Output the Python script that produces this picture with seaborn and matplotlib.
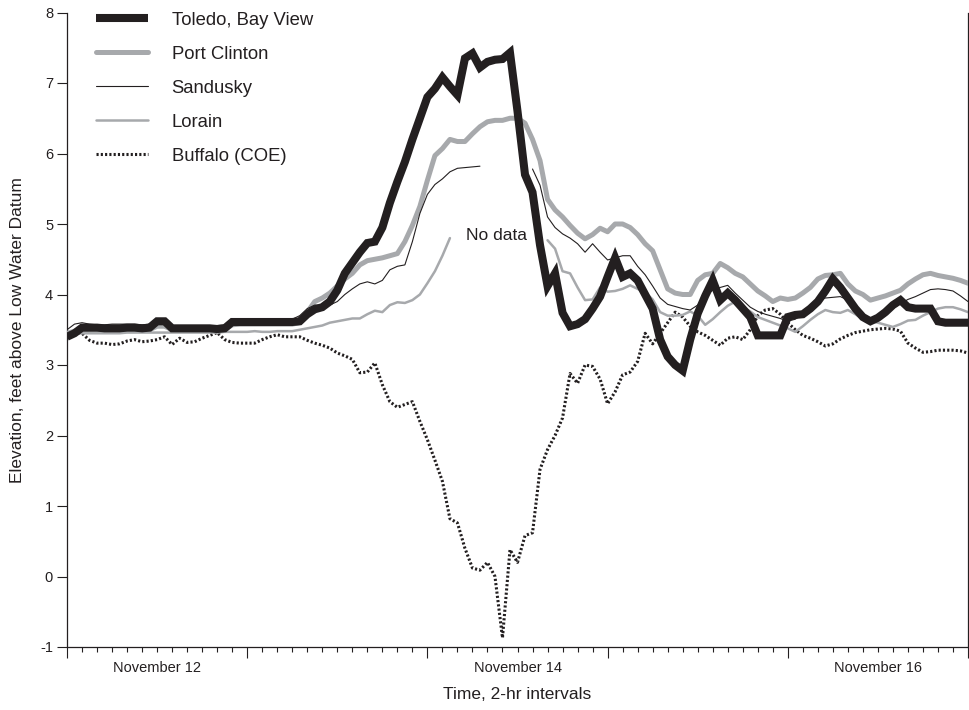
import numpy as np
import pandas as pd
import matplotlib.pyplot as plt
import seaborn as sns
from matplotlib.ticker import MultipleLocator

# Estilo general
sns.set_style("ticks")
plt.rcParams['font.family'] = ['Liberation Sans', 'DejaVu Sans']
plt.rcParams['axes.unicode_minus'] = False

NEGRO = '#231f20'
GRIS = '#a7a9ac'
nan = np.nan

# Horas desde el 12 de noviembre 00:00 (lecturas horarias)
horas = list(range(121))

dias = ['November 12', 'November 14', 'November 16']
pos_dias = [12, 60, 108]

toledo = [
    3.40, 3.45, 3.53, 3.53, 3.53, 3.52, 3.52, 3.52, 3.53, 3.53,
    3.52, 3.53, 3.62, 3.62, 3.52, 3.52, 3.52, 3.52, 3.52, 3.52,
    3.51, 3.52, 3.61, 3.61, 3.61, 3.61, 3.61, 3.61, 3.61, 3.61,
    3.61, 3.62, 3.72, 3.79, 3.82, 3.90, 4.06, 4.30, 4.45, 4.60,
    4.73, 4.75, 4.95, 5.30, 5.60, 5.88, 6.20, 6.50, 6.80, 6.92,
    7.08, 6.95, 6.83, 7.35, 7.42, 7.22, 7.30, 7.33, 7.34, 7.43,
    6.60, 5.70, 5.45, 4.70, 4.12, 4.30, 3.74, 3.55, 3.58, 3.65,
    3.80, 3.97, 4.25, 4.52, 4.25, 4.30, 4.20, 4.00, 3.80, 3.36,
    3.12, 3.00, 2.92, 3.36, 3.73, 3.98, 4.20, 3.92, 4.02, 3.92,
    3.80, 3.68, 3.42, 3.42, 3.42, 3.42, 3.68, 3.71, 3.72, 3.80,
    3.90, 4.05, 4.22, 4.10, 3.95, 3.80, 3.68, 3.62, 3.67, 3.75,
    3.85, 3.92, 3.82, 3.80, 3.80, 3.80, 3.62, 3.60, 3.60, 3.60,
    3.60,
]

port_clinton = [
    3.45, 3.48, 3.50, 3.50, 3.50, 3.50, 3.50, 3.50, 3.50, 3.50,
    3.50, 3.50, 3.55, 3.55, 3.50, 3.50, 3.50, 3.50, 3.50, 3.50,
    3.50, 3.50, 3.57, 3.58, 3.58, 3.58, 3.58, 3.58, 3.58, 3.58,
    3.58, 3.60, 3.75, 3.90, 3.95, 4.02, 4.12, 4.22, 4.30, 4.42,
    4.48, 4.50, 4.52, 4.55, 4.58, 4.75, 4.98, 5.25, 5.62, 5.97,
    6.07, 6.20, 6.17, 6.17, 6.28, 6.38, 6.45, 6.47, 6.47, 6.50,
    6.50, 6.43, 6.20, 5.90, 5.35, 5.20, 5.10, 4.98, 4.87, 4.79,
    4.85, 4.94, 4.89, 5.00, 5.00, 4.95, 4.85, 4.72, 4.62, 4.35,
    4.08, 4.02, 4.00, 4.00, 4.20, 4.28, 4.30, 4.44, 4.38, 4.30,
    4.25, 4.15, 4.05, 3.98, 3.90, 3.95, 3.93, 3.95, 4.02, 4.10,
    4.22, 4.27, 4.28, 4.30, 4.15, 4.05, 4.00, 3.92, 3.95, 3.98,
    4.02, 4.06, 4.15, 4.22, 4.28, 4.30, 4.27, 4.25, 4.23, 4.20,
    4.16,
]

sandusky = [
    3.50, 3.58, 3.60, 3.58, 3.57, 3.57, 3.58, 3.58, 3.58, 3.58,
    3.57, 3.58, 3.60, 3.60, 3.56, 3.56, 3.56, 3.56, 3.56, 3.56,
    3.56, 3.57, 3.60, 3.61, 3.62, 3.62, 3.62, 3.62, 3.62, 3.63,
    3.65, 3.70, 3.80, 3.85, 3.85, 3.85, 3.90, 4.00, 4.08, 4.15,
    4.18, 4.15, 4.20, 4.35, 4.40, 4.42, 4.75, 5.15, 5.42, 5.56,
    5.64, 5.74, 5.79, 5.80, 5.81, 5.82, nan, nan, nan, nan,
    nan, nan, 5.78, 5.55, 5.10, 4.95, 4.86, 4.80, 4.72, 4.60,
    4.72, 4.60, 4.49, 4.52, 4.55, 4.55, 4.40, 4.28, 4.12, 3.95,
    3.86, 3.83, 3.80, 3.78, 3.85, 3.98, 4.06, 4.10, 4.13, 4.02,
    3.92, 3.82, 3.76, 3.72, 3.69, 3.66, 3.62, 3.65, 3.72, 3.85,
    3.93, 3.95, 3.96, 3.97, 3.92, 3.82, 3.72, 3.66, 3.64, 3.70,
    3.80, 3.87, 3.93, 3.97, 4.02, 4.07, 4.08, 4.07, 4.05, 3.98,
    3.90,
]

lorain = [
    3.45, 3.45, 3.45, 3.45, 3.45, 3.45, 3.45, 3.45, 3.46, 3.46,
    3.46, 3.46, 3.46, 3.46, 3.46, 3.46, 3.46, 3.46, 3.46, 3.46,
    3.46, 3.47, 3.47, 3.47, 3.47, 3.48, 3.47, 3.47, 3.48, 3.48,
    3.48, 3.50, 3.52, 3.54, 3.56, 3.60, 3.62, 3.64, 3.66, 3.66,
    3.72, 3.77, 3.75, 3.85, 3.89, 3.88, 3.92, 4.00, 4.16, 4.33,
    4.55, 4.80, nan, nan, nan, nan, nan, nan, nan, nan,
    nan, nan, nan, nan, 4.77, 4.65, 4.33, 4.30, 4.10, 3.92,
    3.93, 4.10, 4.04, 4.05, 4.08, 4.13, 4.08, 4.03, 3.93, 3.75,
    3.70, 3.70, 3.71, 3.76, 3.70, 3.57, 3.65, 3.75, 3.84, 3.90,
    3.82, 3.76, 3.68, 3.64, 3.60, 3.56, 3.52, 3.47, 3.55, 3.64,
    3.72, 3.78, 3.75, 3.74, 3.78, 3.72, 3.65, 3.62, 3.60, 3.57,
    3.54, 3.58, 3.63, 3.64, 3.70, 3.75, 3.80, 3.82, 3.82, 3.79,
    3.75,
]

buffalo = [
    3.40, 3.47, 3.45, 3.35, 3.31, 3.31, 3.29, 3.30, 3.34, 3.36,
    3.33, 3.34, 3.36, 3.40, 3.29, 3.38, 3.32, 3.33, 3.38, 3.42,
    3.46, 3.36, 3.32, 3.31, 3.31, 3.31, 3.36, 3.40, 3.43, 3.40,
    3.40, 3.40, 3.35, 3.31, 3.28, 3.24, 3.17, 3.13, 3.08, 2.89,
    2.90, 3.03, 2.72, 2.48, 2.40, 2.44, 2.48, 2.20, 1.94, 1.65,
    1.35, 0.82, 0.76, 0.40, 0.12, 0.09, 0.20, 0.00, -0.87, 0.38,
    0.20, 0.58, 0.62, 1.52, 1.80, 2.00, 2.25, 2.88, 2.74, 3.00,
    2.98, 2.80, 2.45, 2.62, 2.86, 2.90, 3.05, 3.45, 3.30, 3.45,
    3.60, 3.75, 3.68, 3.55, 3.47, 3.42, 3.35, 3.28, 3.38, 3.40,
    3.36, 3.50, 3.70, 3.78, 3.80, 3.72, 3.60, 3.50, 3.42, 3.38,
    3.33, 3.27, 3.30, 3.37, 3.42, 3.46, 3.48, 3.50, 3.51, 3.52,
    3.51, 3.48, 3.31, 3.24, 3.18, 3.19, 3.21, 3.21, 3.21, 3.20,
    3.17,
]


def trazar(ax, valores, etiqueta, **estilo):
    """Dibuja una serie; los huecos (NaN) cortan la linea"""
    serie = pd.Series(valores, index=horas, dtype=float)
    tramo = serie.isna().cumsum()
    primero = True
    for _, parte in serie.groupby(tramo):
        parte = parte.dropna()
        if parte.empty:
            continue
        sns.lineplot(x=parte.index, y=parte.values, ax=ax, legend=False,
                     label=etiqueta if primero else '_nolegend_', **estilo)
        primero = False


fig = plt.figure(figsize=(9.69, 7.10), dpi=100)
ax = fig.add_axes([67 / 969, 1 - 647 / 710, 901 / 969, (647 - 12.5) / 710])

trazar(ax, toledo, 'Toledo, Bay View', color=NEGRO, linewidth=5.8, zorder=5,
       solid_joinstyle='miter', solid_capstyle='butt')
trazar(ax, port_clinton, 'Port Clinton', color=GRIS, linewidth=3.6, zorder=3)
trazar(ax, sandusky, 'Sandusky', color=NEGRO, linewidth=0.8, zorder=4)
trazar(ax, lorain, 'Lorain', color=GRIS, linewidth=1.8, zorder=2)
trazar(ax, buffalo, 'Buffalo (COE)', color=NEGRO, linewidth=2.2, zorder=1,
       linestyle=(0, (0.7, 0.7)))

ax.text(53.1, 4.84, 'No data', ha='left', va='center', fontsize=12.5, color=NEGRO)

# Ejes
ax.set_xlim(0, 120)
ax.set_ylim(-1, 8)
ax.set_yticks(range(-1, 9))
ax.xaxis.set_major_locator(MultipleLocator(24))
ax.xaxis.set_minor_locator(MultipleLocator(2))
ax.tick_params(axis='x', which='major', length=8, width=0.8, color=NEGRO, labelbottom=False)
ax.tick_params(axis='x', which='minor', length=3.6, width=0.8, color=NEGRO)
ax.tick_params(axis='y', length=7, width=0.8, pad=3, labelsize=10.5, color=NEGRO, labelcolor=NEGRO)
for lado in ['left', 'right', 'bottom']:
    ax.spines[lado].set_color(NEGRO)
    ax.spines[lado].set_linewidth(0.9)
ax.spines['top'].set_visible(False)

sec = ax.secondary_xaxis('bottom')
sec.set_xticks(pos_dias, dias)
sec.tick_params(length=0, pad=10, labelsize=10.5, labelcolor=NEGRO)
sec.spines['bottom'].set_visible(False)
sec.set_xlabel('Time, 2-hr intervals', fontsize=12.5, labelpad=9, color=NEGRO)

ax.set_xlabel('')
ax.set_ylabel('Elevation, feet above Low Water Datum', fontsize=12.5, labelpad=11, color=NEGRO)

handles, labels = ax.get_legend_handles_labels()
ax.legend(handles, labels, loc='upper left', bbox_to_anchor=(0.032, 1.001),
          frameon=False, fontsize=13.3, handlelength=2.85, handletextpad=1.25,
          labelspacing=0.92, borderpad=0, borderaxespad=0, labelcolor=NEGRO)

fig.savefig('out.png', dpi=100)
